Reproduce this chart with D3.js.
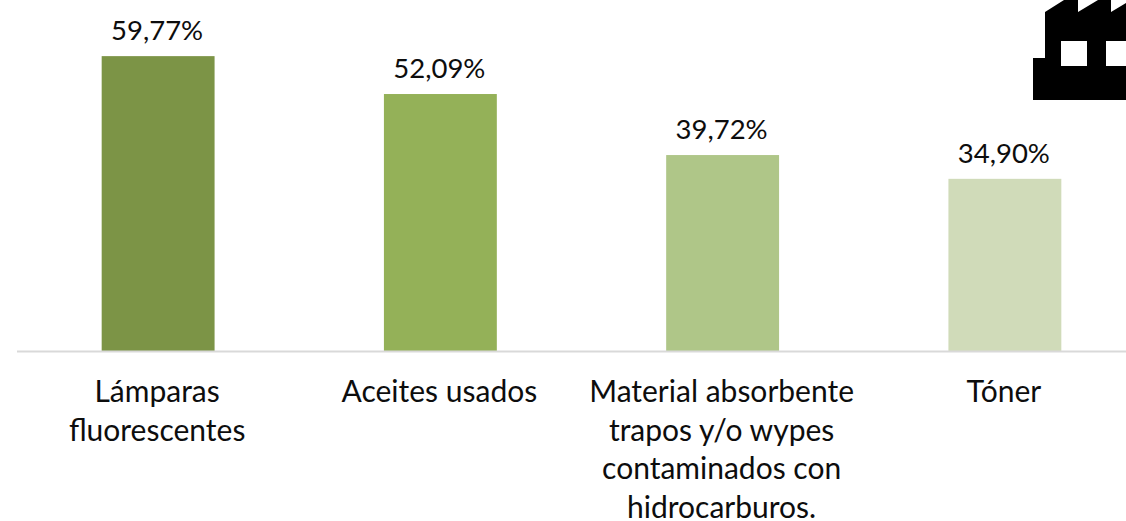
<!DOCTYPE html>
<html>
<head>
<meta charset="utf-8">
<script src="https://cdn.jsdelivr.net/npm/d3@7"></script>
<style>
  html, body { margin: 0; padding: 0; background: #fff; }
  svg { display: block; }
  text { font-family: Lato, "Noto Sans", sans-serif; fill: #0d0d0d; }
</style>
</head>
<body>
<script>
// chart values
const categories = ["Lámparas fluorescentes", "Aceites usados", "Material absorbente trapos y/o wypes contaminados con hidrocarburos.", "Tóner"];
const values = [59.77, 52.09, 39.72, 34.90];
const valueLabels = ["59,77%", "52,09%", "39,72%", "34,90%"];
const barColors = ["#7c9446", "#94b158", "#afc688", "#d0dbb9"];
const categoryLines = [
  ["Lámparas", "fluorescentes"],
  ["Aceites usados"],
  ["Material absorbente", "trapos y/o wypes", "contaminados con", "hidrocarburos."],
  ["Tóner"]
];

const w = 1126;
const h = 521;

const svg = d3.select("body")
  .append("svg")
  .attr("width", w)
  .attr("height", h);

const x = d3.scaleBand()
  .domain(categories)
  .range([17, 1146])
  .paddingInner(0.6)
  .paddingOuter(0.3);

const y = d3.scaleLinear()
  .domain([0, 60])
  .range([351, 55]);

// bars
svg.selectAll("rect.bar")
  .data(categories)
  .enter()
  .append("rect")
  .attr("class", "bar")
  .attr("x", d => x(d))
  .attr("y", (d, i) => y(values[i]))
  .attr("width", x.bandwidth())
  .attr("height", (d, i) => y(0) - y(values[i]))
  .attr("fill", (d, i) => barColors[i]);

// baseline
svg.append("line")
  .attr("x1", 17)
  .attr("x2", w)
  .attr("y1", 351.5)
  .attr("y2", 351.5)
  .attr("stroke", "#d9d9d9")
  .attr("stroke-width", 2);

// value labels
svg.selectAll("text.value")
  .data(categories)
  .enter()
  .append("text")
  .attr("class", "value")
  .attr("x", d => x(d) + x.bandwidth() / 2 - 1)
  .attr("y", (d, i) => y(values[i]) - 16)
  .attr("text-anchor", "middle")
  .attr("font-size", 27.5)
  .text((d, i) => valueLabels[i]);

// category labels
categories.forEach(function(cat, i) {
  categoryLines[i].forEach(function(line, j) {
    svg.append("text")
      .attr("x", x(cat) + x.bandwidth() / 2 - 1)
      .attr("y", 402 + j * 38.7)
      .attr("text-anchor", "middle")
      .attr("font-size", 30)
      .text(line);
  });
});

// factory icon, runs off the top right corner
svg.append("path")
  .attr("d", "M1033,100V58H1045V12L1064,0H1078V12L1098,0H1111V12L1126,3V100Z"
    + "M1061,41V66H1087V41Z M1106,41V66H1126V41Z")
  .attr("fill", "#000")
  .attr("fill-rule", "evenodd");
</script>
</body>
</html>
